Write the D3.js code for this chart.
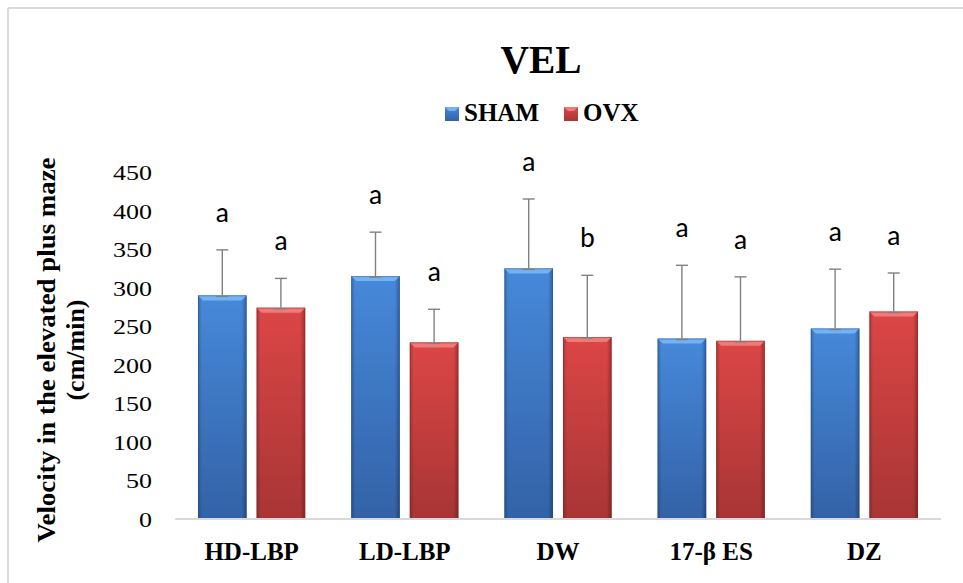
<!DOCTYPE html>
<html>
<head>
<meta charset="utf-8">
<script src="https://cdn.jsdelivr.net/npm/d3@7"></script>
<style>
  html, body { margin: 0; padding: 0; background: #ffffff; }
  svg { display: block; }
</style>
</head>
<body>
<script>
// ---- data ----
const categories = ["HD-LBP", "LD-LBP", "DW", "17-\u03B2 ES", "DZ"];
const seriesNames = ["SHAM", "OVX"];
const shamValues = [290, 315, 325, 234, 247];
const ovxValues  = [274, 229, 236, 231, 269];
const shamErrors = [59, 57, 90, 95, 77];
const ovxErrors  = [38, 43, 80, 83, 50];
const shamLetters = ["a", "a", "a", "a", "a"];
const ovxLetters  = ["a", "a", "b", "a", "a"];
const yTicks = [0, 50, 100, 150, 200, 250, 300, 350, 400, 450];
const chartTitle = "VEL";
const yTitleLines = ["Velocity in the elevated plus maze", "(cm/min)"];

// ---- setup ----
const W = 963, H = 583;
const SERIF = "'Liberation Serif', 'Times New Roman', serif";
const svg = d3.select("body").append("svg").attr("width", W).attr("height", H);

const palette = {
  SHAM: { top: "#4689da", bottom: "#3362a6", bevel: "#74b2f2", edge: "#2a5390" },
  OVX:  { top: "#dc4646", bottom: "#a83535", bevel: "#f07a7a", edge: "#8e2a2a" }
};

const defs = svg.append("defs");
seriesNames.forEach(s => {
  const g = defs.append("linearGradient").attr("id", "grad-" + s)
    .attr("x1", 0).attr("y1", 0).attr("x2", 0).attr("y2", 1);
  g.append("stop").attr("offset", "0%").attr("stop-color", palette[s].top);
  g.append("stop").attr("offset", "100%").attr("stop-color", palette[s].bottom);
});
const eg = defs.append("linearGradient").attr("id", "edgeShade")
  .attr("x1", 0).attr("y1", 0).attr("x2", 1).attr("y2", 0);
eg.append("stop").attr("offset", "0%").attr("stop-color", "#000").attr("stop-opacity", 0.22);
eg.append("stop").attr("offset", "8%").attr("stop-color", "#000").attr("stop-opacity", 0.0);
eg.append("stop").attr("offset", "90%").attr("stop-color", "#000").attr("stop-opacity", 0.0);
eg.append("stop").attr("offset", "100%").attr("stop-color", "#000").attr("stop-opacity", 0.3);

// frame
svg.append("line").attr("x1", 8).attr("x2", W).attr("y1", 8).attr("y2", 8)
  .attr("stroke", "#d9d9d9").attr("stroke-width", 2);
svg.append("line").attr("x1", 8).attr("x2", 8).attr("y1", 8).attr("y2", H)
  .attr("stroke", "#d9d9d9").attr("stroke-width", 2);

// scales
const x0 = d3.scaleBand().domain(categories).range([175, 941])
  .paddingInner(0.3).paddingOuter(0.15);
const x1 = d3.scaleBand().domain(seriesNames).range([0, x0.bandwidth()]).paddingInner(0.17);
const y = d3.scaleLinear().domain([0, 450]).range([519, 172]);

const rows = [];
categories.forEach((c, i) => {
  rows.push({ cat: c, s: "SHAM", v: shamValues[i], e: shamErrors[i], l: shamLetters[i] });
  rows.push({ cat: c, s: "OVX",  v: ovxValues[i],  e: ovxErrors[i],  l: ovxLetters[i] });
});

// y-axis tick labels (no axis line)
const yAxis = d3.axisLeft(y).tickValues(yTicks).tickSize(0).tickPadding(0);
const yg = svg.append("g").attr("transform", "translate(152,0)").call(yAxis)
  .attr("font-family", SERIF).attr("font-size", 22);
yg.select(".domain").remove();
yg.selectAll("text")
  .style("font-family", SERIF)
  .style("font-size", "22px")
  .attr("fill", "#000")
  .attr("dy", "0.34em")
  .attr("textLength", d => String(d).length * 13)
  .attr("lengthAdjust", "spacingAndGlyphs");

// bars
const bevel = 5;
const barG = svg.append("g");
rows.forEach(r => {
  const bx = x0(r.cat) + x1(r.s);
  const bw = x1.bandwidth();
  const by = y(r.v);
  const bh = y(0) - by;
  barG.append("rect").attr("x", bx).attr("y", by).attr("width", bw).attr("height", bh)
    .attr("fill", "url(#grad-" + r.s + ")");
  barG.append("rect").attr("x", bx).attr("y", by).attr("width", bw).attr("height", bh)
    .attr("fill", "url(#edgeShade)");
  barG.append("polygon")
    .attr("points", [[bx, by], [bx + bw, by], [bx + bw - bevel, by + bevel], [bx + bevel, by + bevel]].map(p => p.join(",")).join(" "))
    .attr("fill", palette[r.s].bevel);
  barG.append("rect").attr("x", bx + 0.5).attr("y", by + 0.5).attr("width", bw - 1).attr("height", bh - 1)
    .attr("fill", "none").attr("stroke", palette[r.s].edge).attr("stroke-opacity", 0.45).attr("stroke-width", 1);
});

// x axis line
svg.append("line").attr("x1", 175).attr("x2", 941).attr("y1", y(0)).attr("y2", y(0))
  .attr("stroke", "#d9d9d9").attr("stroke-width", 2);

// error bars
const errG = svg.append("g").attr("stroke", "#808080").attr("stroke-width", 1.4);
rows.forEach(r => {
  const cx = x0(r.cat) + x1(r.s) + x1.bandwidth() / 2;
  errG.append("line").attr("x1", cx).attr("x2", cx).attr("y1", y(r.v)).attr("y2", y(r.v + r.e));
  errG.append("line").attr("x1", cx - 6).attr("x2", cx + 6).attr("y1", y(r.v + r.e)).attr("y2", y(r.v + r.e));
  errG.append("line").attr("x1", cx - 6).attr("x2", cx + 6).attr("y1", y(r.v) + 1).attr("y2", y(r.v) + 1);
});

// significance letters
svg.append("g").selectAll("text").data(rows).join("text")
  .attr("x", r => x0(r.cat) + x1(r.s) + x1.bandwidth() / 2)
  .attr("y", r => y(r.v + r.e) - 28)
  .attr("text-anchor", "middle")
  .style("font-family", "Carlito, Calibri, 'Open Sans', sans-serif")
  .style("font-size", "28px")
  .attr("fill", "#000")
  .text(r => r.l);

// x labels
const xAxis = d3.axisBottom(x0).tickSize(0).tickPadding(0);
const xg = svg.append("g").attr("transform", "translate(0,519)").call(xAxis);
xg.select(".domain").remove();
xg.selectAll("text")
  .style("font-family", SERIF)
  .style("font-size", "25px")
  .attr("font-weight", "bold")
  .attr("fill", "#000")
  .attr("y", 41)
  .attr("dy", 0);

// title
svg.append("text").attr("x", 541).attr("y", 73).attr("text-anchor", "middle")
  .style("font-family", SERIF)
  .attr("font-weight", "bold").attr("font-size", 41).attr("fill", "#000")
  .attr("textLength", 81).attr("lengthAdjust", "spacingAndGlyphs")
  .text(chartTitle);

// legend
const legendPos = { SHAM: 445, OVX: 564 };
seriesNames.forEach(s => {
  const lx = legendPos[s];
  svg.append("rect").attr("x", lx).attr("y", 107).attr("width", 14).attr("height", 14)
    .attr("fill", "url(#grad-" + s + ")");
  svg.append("polygon")
    .attr("points", [[lx, 107], [lx + 14, 107], [lx + 10, 111], [lx + 4, 111]].map(p => p.join(",")).join(" "))
    .attr("fill", palette[s].bevel);
  svg.append("text").attr("x", lx + 19).attr("y", 121)
    .style("font-family", SERIF)
    .attr("font-weight", "bold").attr("font-size", 25).attr("fill", "#000")
    .text(s);
});

// y axis title
const yt = svg.append("g").attr("transform", "translate(0,350) rotate(-90)");
yt.append("text").attr("x", 0).attr("y", 55).attr("text-anchor", "middle")
  .style("font-family", SERIF)
  .attr("font-weight", "bold").attr("font-size", 26).attr("fill", "#000")
  .attr("textLength", 385).attr("lengthAdjust", "spacingAndGlyphs")
  .text(yTitleLines[0]);
yt.append("text").attr("x", 0).attr("y", 84).attr("text-anchor", "middle")
  .style("font-family", SERIF)
  .attr("font-weight", "bold").attr("font-size", 26).attr("fill", "#000")
  .text(yTitleLines[1]);
</script>
</body>
</html>
